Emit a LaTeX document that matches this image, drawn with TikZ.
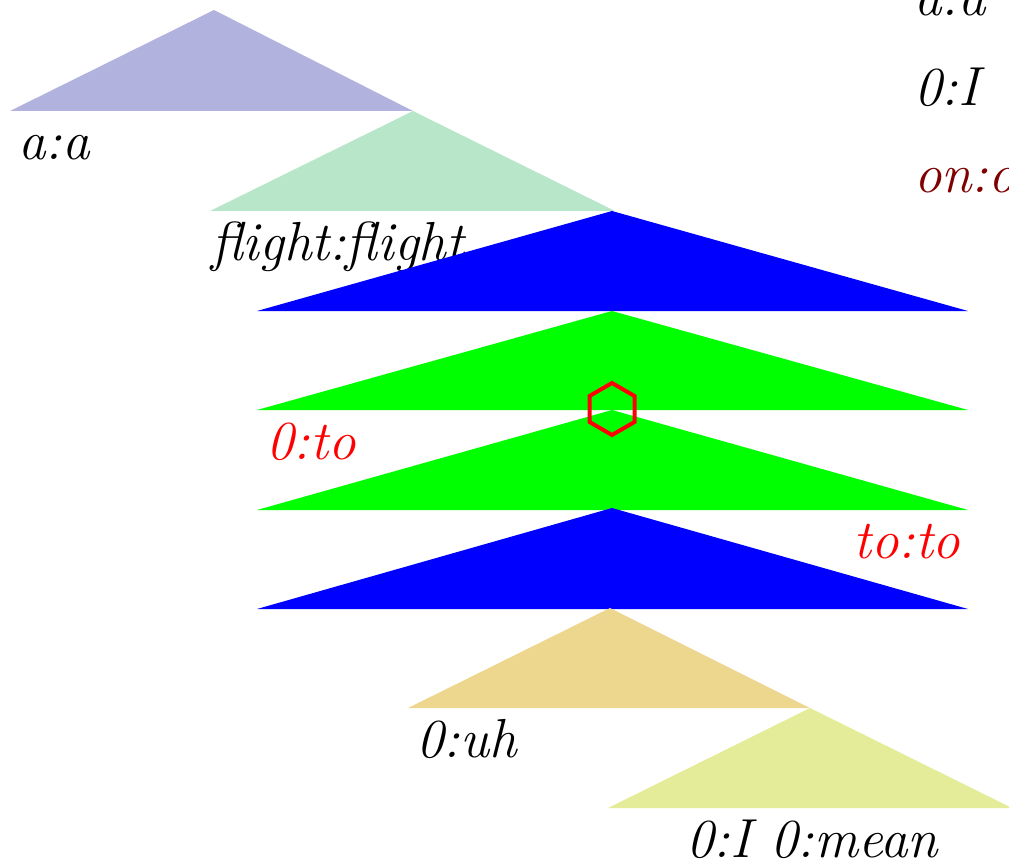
\documentclass[tikz,border=0pt]{standalone}
\definecolor{lav}{RGB}{178,178,223}
\definecolor{lgreen}{RGB}{184,230,201}
\definecolor{tan}{RGB}{237,214,142}
\definecolor{ygreen}{RGB}{228,236,154}
\definecolor{dred}{RGB}{128,0,0}
\begin{document}
\begin{tikzpicture}[x=1pt,y=-1pt,
  lbl/.style={anchor=base west,inner sep=0pt,font=\fontsize{55}{66}\selectfont\itshape},
  tri/.style={draw=none}]
\useasboundingbox (0,0) rectangle (1009,861);
\clip (0,0) rectangle (1009,861);
% triangles
\fill[lav] (214,10) -- (413,111) -- (10,111) -- cycle;
\node[lbl] (aa) at (18,160) {a:a};
\fill[lgreen] (413,111) -- (615,211) -- (210,211) -- cycle;
\node[lbl] (flight) at (211,260) {flight:flight};
\fill[blue] (612,211) -- (968,311) -- (257,311) -- cycle;
\fill[green] (612,311) -- (968,410) -- (257,410) -- cycle;
\node[lbl,text=red] (zto) at (266,459) {0:to};
\fill[green] (612,410) -- (968,510) -- (257,510) -- cycle;
\node[lbl,text=red] (toto) at (853,558) {to:to};
\fill[blue] (612,508) -- (968,609) -- (257,609) -- cycle;
\fill[tan] (610,608) -- (810,708) -- (408,708) -- cycle;
\node[lbl] (uh) at (416,757) {0:uh};
\fill[ygreen] (810,708) -- (1012,808) -- (608,808) -- cycle;
\node[lbl] (mean) at (686,857) {0:I 0:mean};
% top right
\node[lbl] (ra) at (914,16) {a:a};
\node[lbl] (rI) at (914,106) {0:I};
\node[lbl,text=dred] (ron) at (914,193) {on:on};
% hexagon
\draw[red,line width=4pt,line join=miter] (612,383) -- (634.5,396) -- (634.5,422) -- (612,435) -- (589.5,422) -- (589.5,396) -- cycle;
\end{tikzpicture}
\end{document}
